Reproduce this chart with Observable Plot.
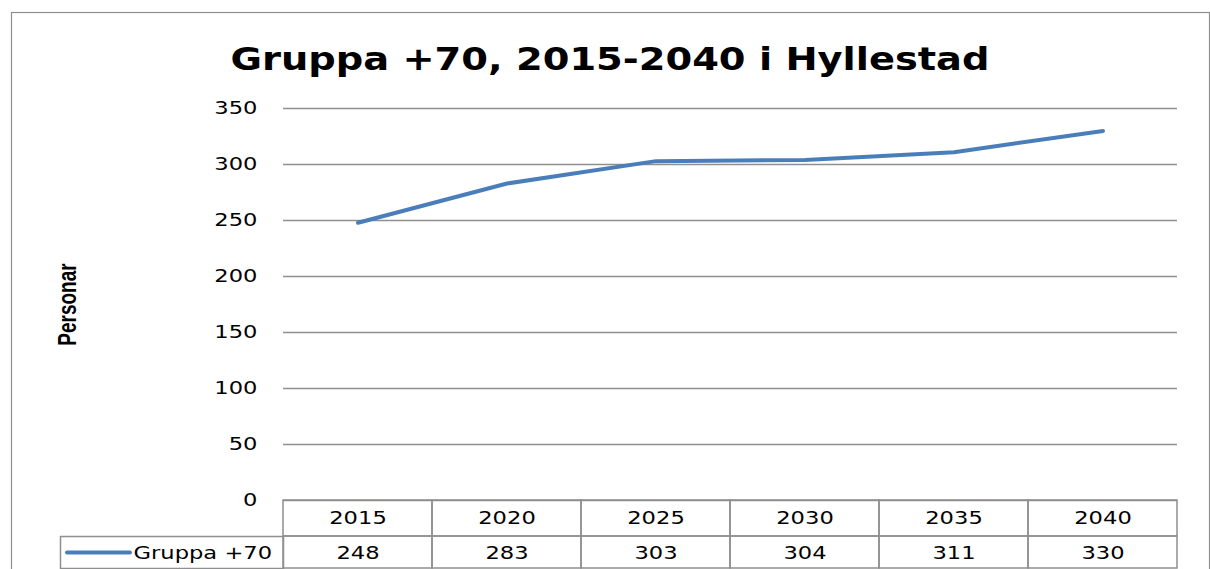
<!DOCTYPE html>
<html>
<head>
<meta charset="utf-8">
<script src="https://cdn.jsdelivr.net/npm/d3@7"></script>
<script src="https://cdn.jsdelivr.net/npm/@observablehq/plot@0.6"></script>
<style>
  html, body { margin: 0; padding: 0; background: #fff; }
</style>
</head>
<body>
<div id="chart"></div>
<script>
const title = "Gruppa +70, 2015-2040 i Hyllestad";
const yLabel = "Personar";
const seriesName = "Gruppa +70";
const years = [2015, 2020, 2025, 2030, 2035, 2040];
const values = [248, 283, 303, 304, 311, 330];
const yTicks = [0, 50, 100, 150, 200, 250, 300, 350];

const rows = years.map((year, i) => ({year, value: values[i]}));
const lineColor = "#4a7ebb";
const gridColor = "#8f8f8f";

const svg = Plot.plot({
  width: 1210,
  height: 569,
  marginLeft: 283,
  marginRight: 33,
  marginTop: 108,
  marginBottom: 69,
  style: {fontFamily: "DejaVu Sans", fontSize: "17px", background: "white", color: "#000", overflow: "visible"},
  x: {type: "band", domain: years, padding: 0, axis: null},
  y: {domain: [0, 350], axis: null},
  marks: [
    Plot.frame({insetLeft: -272, insetRight: -32, insetTop: -96, insetBottom: -75, stroke: gridColor, strokeWidth: 1.2}),
    Plot.gridY(yTicks, {stroke: gridColor, strokeOpacity: 1, strokeWidth: 1.5}),
    Plot.axisY(yTicks, {tickSize: 0, tickPadding: 26, line: true, stroke: gridColor, strokeWidth: 1.5, fill: "#000", fontSize: 17, label: null}),
    // data table: header row and value row
    Plot.barY(years, {x: d => d, y1: 0, y2: 0, insetBottom: -36, fill: "none", stroke: gridColor, strokeWidth: 1.5}),
    Plot.barY(years, {x: d => d, y1: 0, y2: 0, insetTop: 36, insetBottom: -68, fill: "none", stroke: gridColor, strokeWidth: 1.5}),
    Plot.frame({insetLeft: -223, insetRight: 894, insetTop: 428, insetBottom: -68, stroke: gridColor, strokeWidth: 1.5}),
    Plot.text(years, {x: d => d, y: 0, text: d => String(d), dy: 18, lineAnchor: "middle", fill: "#000", fontSize: 17}),
    Plot.text(rows, {x: "year", y: 0, text: d => String(d.value), dy: 53, lineAnchor: "middle", fill: "#000", fontSize: 17}),
    // legend key in table
    Plot.ruleY([0], {insetLeft: -216, insetRight: 1047, dy: 52, stroke: lineColor, strokeWidth: 4, strokeLinecap: "round"}),
    Plot.text([seriesName], {frameAnchor: "bottom-left", dx: -150, dy: 53, textAnchor: "start", lineAnchor: "middle", fill: "#000", fontSize: 17}),
    // series line
    Plot.line(rows, {x: "year", y: "value", stroke: lineColor, strokeWidth: 4, strokeLinecap: "round", strokeLinejoin: "round"}),
    // y label
    Plot.text([yLabel], {frameAnchor: "left", dx: -216, rotate: -90, textAnchor: "middle", lineAnchor: "middle", fontFamily: "Liberation Sans, Arial, sans-serif", fontWeight: "bold", fontSize: 19, fill: "#000"}),
    // title
    Plot.text([title], {frameAnchor: "top", dx: -120.5, dy: -39, lineAnchor: "bottom", fontSize: 32, fontWeight: "bold", fill: "#000"})
  ]
});

// widen glyphs horizontally to match the stretched reference rendering
svg.querySelectorAll("text").forEach(t => {
  const content = t.textContent;
  let tr = t.getAttribute("transform") || "";
  if (!tr) {
    const x = +(t.getAttribute("x") || 0);
    const y = +(t.getAttribute("y") || 0);
    t.removeAttribute("x"); t.removeAttribute("y");
    tr = `translate(${x},${y})`;
  }
  if (content === yLabel) t.setAttribute("transform", tr + " scale(1,1.35)");
  else if (content === title) t.setAttribute("transform", tr + " scale(1.2,1)");
  else t.setAttribute("transform", tr + " scale(1.33,1)");
});

document.getElementById("chart").appendChild(svg);
</script>
</body>
</html>
